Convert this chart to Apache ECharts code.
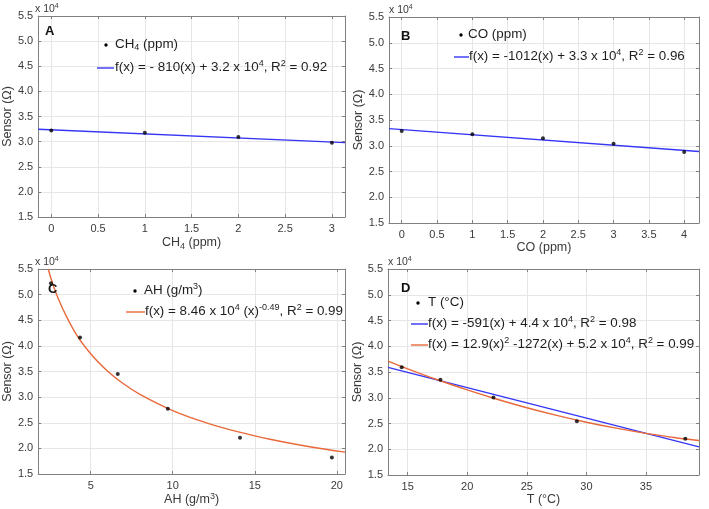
<!DOCTYPE html>
<html>
<head>
<meta charset="utf-8">
<script src="https://cdn.jsdelivr.net/npm/echarts@6/dist/echarts.min.js"></script>
<style>html,body{margin:0;padding:0;background:#fff}#c{width:709px;height:509px}</style>
</head>
<body>
<div id="c"></div>
<script>
// ---- data ----
const chX = [0, 1, 2, 3];
const chY = [32200, 31780, 30900, 29800];
const chFitX = [-0.14, 3.14];
const chFitY = [32460, 29810];

const coX = [0, 1, 2, 3, 4];
const coY = [32860, 32250, 31450, 30400, 28800];
const coFitX = [-0.18, 4.21];
const coFitY = [33330, 28890];

const ahX = [2.58, 4.35, 6.65, 9.7, 14.1, 19.7];
const ahY = [52200, 41650, 34500, 27750, 22050, 18200];
const ahFitX = [2.41, 3, 4, 5, 6, 7, 8, 10, 12, 14, 16, 18, 20.5];
const ahFitY = [55000, 49380, 42890, 38450, 35160, 32600, 30540, 27380, 25040, 23220, 21740, 20520, 19260];

const tX = [14.5, 17.75, 22.2, 29.2, 38.3];
const tY = [35900, 33500, 30050, 25450, 22050];
const tLinX = [13.35, 39.45];
const tLinY = [35900, 20475];
const tQuadX = [13.35, 15, 17.5, 20, 22.5, 25, 27.5, 30, 32.5, 35, 37.5, 39.45];
const tQuadY = [37120, 35620, 33490, 31520, 29710, 28060, 26580, 25250, 24090, 23080, 22240, 21700];

const xRanges = [[-0.14, 3.14], [-0.18, 4.21], [1.8, 20.5], [13.35, 39.45]];
const xSplits = [7, 9, 4, 5];
const yMin = 15000, yMax = 55000, yStep = 5000;

const panelLetters = ['A', 'B', 'C', 'D'];
const xNames = ['CH{sub|4} (ppm)', 'CO (ppm)', 'AH (g/m{sup|3})', 'T (°C)'];
const yName = 'Sensor (Ω)';
const scaleLabel = 'x 10{sup|4}';
const legendA = ['CH{sub|4} (ppm)', 'f(x) = - 810(x) + 3.2 x 10{sup|4}, R{sup|2} = 0.92'];
const legendB = ['CO (ppm)', 'f(x) = -1012(x) + 3.3 x 10{sup|4}, R{sup|2} = 0.96'];
const legendC = ['AH (g/m{sup|3})', 'f(x) = 8.46 x 10{sup|4} (x){sup|-0.49}, R{sup|2} = 0.99'];
const legendD = ['T (°C)', 'f(x) = -591(x) + 4.4 x 10{sup|4}, R{sup|2} = 0.98', 'f(x) = 12.9(x){sup|2} -1272(x) + 5.2 x 10{sup|4}, R{sup|2} = 0.99'];

// ---- styling / layout ----
const FONT = "'Liberation Sans', Arial, Helvetica, sans-serif";
const BLUE = '#3535f5';
const ORANGE = '#e8693a';
const AXIS = '#808080';
const TXT = '#3a3a3a';
const LEG = '#1e1e1e';
const grids = [
  {left: 35, top: 16, width: 310, height: 201},
  {left: 389, top: 17, width: 310, height: 206},
  {left: 35, top: 269, width: 310, height: 205},
  {left: 388, top: 269, width: 311, height: 206}
];
const richSmall = (fs, color) => ({
  sup: {fontSize: Math.round(fs * 0.68), padding: [0, 0, Math.round(fs * 0.55), 0], fontFamily: FONT, color: color || TXT},
  sub: {fontSize: Math.round(fs * 0.68), padding: [Math.round(fs * 0.55), 0, 0, 0], fontFamily: FONT, color: color || TXT}
});
const zip = (xs, ys) => xs.map((x, i) => [x, ys[i]]);

const xAxes = [], yAxes = [];
grids.forEach((g, i) => {
  const base = {
    type: 'value', gridIndex: i, min: xRanges[i][0], max: xRanges[i][1], splitNumber: xSplits[i]
  };
  xAxes.push(Object.assign({}, base, {
    position: 'bottom',
    name: xNames[i], nameLocation: 'middle', nameGap: 18,
    nameTextStyle: {fontFamily: FONT, fontSize: 12.5, color: TXT, rich: richSmall(12.5)},
    axisLine: {show: true, onZero: false, lineStyle: {color: AXIS, width: 1}},
    axisTick: {show: true, inside: true, length: 3, lineStyle: {color: AXIS}},
    axisLabel: {show: true, fontFamily: FONT, fontSize: 11, color: TXT, margin: 6, showMinLabel: false, showMaxLabel: false},
    splitLine: {show: true, lineStyle: {color: '#e6e6e6', width: 1}}
  }));
  yAxes.push({
    type: 'value', gridIndex: i, min: yMin, max: yMax, interval: yStep, position: 'left',
    name: yName, nameLocation: 'middle', nameGap: 22,
    nameTextStyle: {fontFamily: FONT, fontSize: 12.5, color: TXT},
    axisLine: {show: true, onZero: false, lineStyle: {color: AXIS, width: 1}},
    axisTick: {show: true, inside: true, length: 3, lineStyle: {color: AXIS}},
    axisLabel: {show: true, fontFamily: FONT, fontSize: 11, color: TXT, margin: 5,
      formatter: v => (v / 1e4).toFixed(1)},
    splitLine: {show: true, lineStyle: {color: '#e6e6e6', width: 1}}
  });
});
// top / right box axes (ticks only)
grids.forEach((g, i) => {
  xAxes.push({
    type: 'value', gridIndex: i, min: xRanges[i][0], max: xRanges[i][1], splitNumber: xSplits[i],
    position: 'top',
    axisLine: {show: true, onZero: false, lineStyle: {color: AXIS, width: 1}},
    axisTick: {show: true, inside: true, length: 3, lineStyle: {color: AXIS}},
    axisLabel: {show: false}, splitLine: {show: false}
  });
  yAxes.push({
    type: 'value', gridIndex: i, min: yMin, max: yMax, interval: yStep, position: 'right',
    axisLine: {show: true, onZero: false, lineStyle: {color: AXIS, width: 1}},
    axisTick: {show: true, inside: true, length: 3, lineStyle: {color: AXIS}},
    axisLabel: {show: false}, splitLine: {show: false}
  });
});

const scatter = (i, xs, ys) => ({
  type: 'scatter', xAxisIndex: i, yAxisIndex: i, data: zip(xs, ys),
  symbol: 'circle', symbolSize: 4, itemStyle: {color: '#000'}, z: 5, silent: true
});
const line = (i, xs, ys, color, smooth) => ({
  type: 'line', xAxisIndex: i, yAxisIndex: i, data: zip(xs, ys), showSymbol: false, symbol: 'none',
  smooth: smooth ? 0.4 : false, lineStyle: {color: color, width: 1.4}, itemStyle: {color: color},
  clip: true, silent: true, z: 4
});

const series = [
  line(0, chFitX, chFitY, BLUE), scatter(0, chX, chY),
  line(1, coFitX, coFitY, BLUE), scatter(1, coX, coY),
  line(2, ahFitX, ahFitY, ORANGE, true), scatter(2, ahX, ahY),
  line(3, tLinX, tLinY, BLUE), line(3, tQuadX, tQuadY, ORANGE, true), scatter(3, tX, tY)
];

// ---- annotations: scale labels, panel letters, legends ----
const gtext = (x, y, text, fs, opts) => Object.assign({
  type: 'text', x: x, y: y, z: 100, silent: true,
  style: Object.assign({text: text, fontFamily: FONT, fontSize: fs, fill: TXT, verticalAlign: 'middle', align: 'left', rich: richSmall(fs)}, opts || {})
});
const legText = (x, y, text) => gtext(x, y, text, 13.4, {fill: LEG, rich: richSmall(13.4, LEG)});
const gdot = (x, y) => ({type: 'circle', z: 100, silent: true, shape: {cx: x, cy: y, r: 1.7}, style: {fill: '#000'}});
const gline = (x1, x2, y, color) => ({type: 'line', z: 100, silent: true, shape: {x1: x1, y1: y, x2: x2, y2: y}, style: {stroke: color, lineWidth: 1.4}});

const graphics = [];
grids.forEach((g) => graphics.push(gtext(g.left, g.top - 7, scaleLabel, 10.5)));
const letterPos = [[45, 31], [401, 36], [48, 289], [401, 288]];
letterPos.forEach((p, i) => graphics.push(gtext(p[0], p[1], panelLetters[i], 13, {fontWeight: 'bold', fill: '#111'})));

// A
graphics.push(gdot(106, 45), legText(115, 44, legendA[0]));
graphics.push(gline(97, 114, 68, BLUE), legText(115, 67, legendA[1]));
// B
graphics.push(gdot(461, 35), legText(468, 34, legendB[0]));
graphics.push(gline(454, 469, 57, BLUE), legText(469, 56, legendB[1]));
// C
graphics.push(gdot(135, 291), legText(144, 290, legendC[0]));
graphics.push(gline(126, 145, 312, ORANGE), legText(145, 311, legendC[1]));
// D
graphics.push(gdot(418, 303), legText(428, 302, legendD[0]));
graphics.push(gline(411, 428, 324, BLUE), legText(428, 323, legendD[1]));
graphics.push(gline(411, 428, 345, ORANGE), legText(428, 344, legendD[2]));

const chart = echarts.init(document.getElementById('c'), null, {renderer: 'canvas'});
chart.setOption({
  animation: false,
  backgroundColor: '#fff',
  grid: grids.map(g => Object.assign({containLabel: false, show: false}, g)),
  xAxis: xAxes,
  yAxis: yAxes,
  series: series,
  graphic: {elements: graphics}
});
</script>
</body>
</html>
